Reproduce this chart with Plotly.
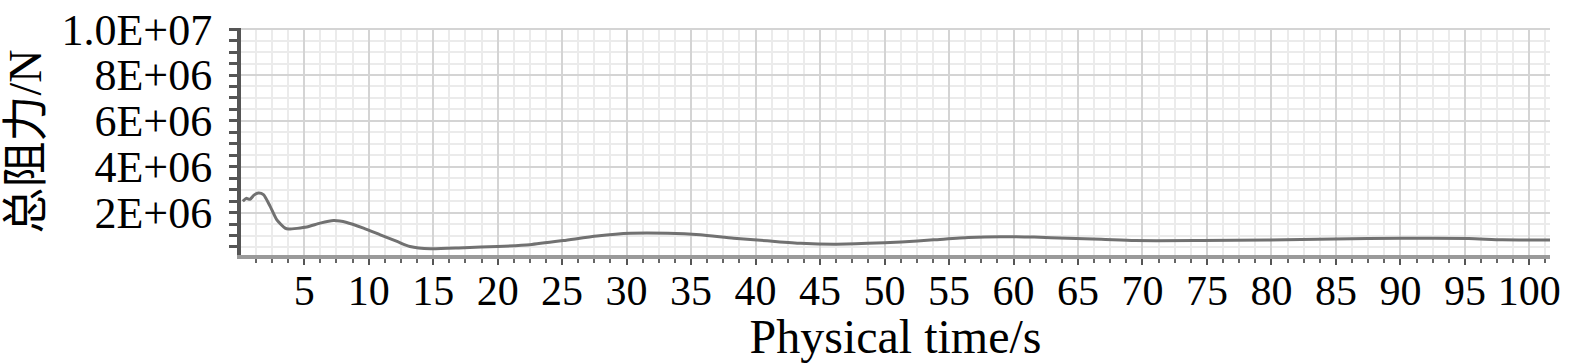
import plotly.graph_objects as go

# Data
time_s = [0.24, 0.5, 0.8, 1.1, 1.45, 1.84, 2.36, 2.88, 3.52, 3.78, 5.2, 6.24, 7.27, 8.3, 9.6,
          10.9, 12.2, 13.2, 14.8, 17.4, 20.0, 22.5, 25.1, 27.7, 30.3, 33.2, 35.7,
          38.3, 40.9, 43.5, 46.1, 48.7, 51.3, 53.8, 56.5, 59.0, 61.6, 64.2, 66.8, 69.4,
          74.55, 79.7, 84.9, 90.1, 95.3, 97.9, 101.7]
drag_N = [2.49e6, 2.62e6, 2.58e6, 2.76e6, 2.85e6, 2.78e6, 2.27e6, 1.68e6, 1.32e6, 1.28e6,
          1.37e6, 1.54e6, 1.65e6, 1.57e6, 1.32e6, 1.03e6, 0.74e6, 0.52e6, 0.42e6, 0.47e6,
          0.52e6, 0.60e6, 0.78e6, 0.98e6, 1.10e6, 1.10e6, 1.03e6, 0.88e6, 0.77e6,
          0.66e6, 0.62e6, 0.66e6, 0.72e6, 0.81e6, 0.91e6, 0.95e6, 0.93e6, 0.88e6, 0.84e6,
          0.78e6, 0.78e6, 0.80e6, 0.85e6, 0.88e6, 0.87e6, 0.81e6, 0.81e6]

y_tickvals = [2e6, 4e6, 6e6, 8e6, 1e7]
y_ticktext = ["2E+06", "4E+06", "6E+06", "8E+06", "1.0E+07"]

serif = "Liberation Serif, Times New Roman, serif"
cjk = "Liberation Serif, Noto Sans CJK SC, serif"

fig = go.Figure()
fig.add_trace(go.Scatter(
    x=time_s, y=drag_N, mode="lines",
    line=dict(color="#717171", width=3, shape="spline", smoothing=0.6),
    showlegend=False,
))

fig.update_layout(
    width=1575, height=363,
    margin=dict(l=241, r=25, t=28, b=108, autoexpand=False),
    paper_bgcolor="white", plot_bgcolor="white",
    font=dict(family=serif, color="black"),
)

fig.update_xaxes(
    range=[0.1, 101.6], tick0=0, dtick=5,
    showline=True, linecolor="#9a9a9a", linewidth=4,
    ticks="outside", ticklen=6, tickwidth=2, tickcolor="#555555",
    tickfont=dict(family=serif, size=42, color="black"),
    ticklabelstandoff=-10,
    showgrid=True, gridcolor="#d4d4d4", gridwidth=1.5,
    minor=dict(dtick=1.25, tick0=0, ticks="outside", ticklen=4, tickwidth=1.5,
               tickcolor="#666666", showgrid=True, gridcolor="#ebebeb", gridwidth=1.5),
    zeroline=False,
    title=dict(text="Physical time/s", font=dict(family=serif, size=48), standoff=0),
    automargin=False,
)

fig.update_yaxes(
    range=[0.15e6, 1.005e7], tickvals=y_tickvals, ticktext=y_ticktext,
    showline=True, linecolor="#555555", linewidth=4,
    ticks="outside", ticklen=8, tickwidth=2.5, tickcolor="#555555",
    tickfont=dict(family=serif, size=44, color="black"),
    ticklabelstandoff=8,
    showgrid=True, gridcolor="#d4d4d4", gridwidth=1.5,
    minor=dict(dtick=0.5e6, tick0=0, ticks="outside", ticklen=8, tickwidth=2.5,
               tickcolor="#555555", showgrid=True, gridcolor="#ebebeb", gridwidth=1.5),
    zeroline=False,
    title=dict(text="总阻力/N", font=dict(family=cjk, size=46), standoff=6),
    automargin=False,
)

fig.write_html("out.html", config={"displayModeBar": False},
               post_script="document.body.style.margin='0';")
